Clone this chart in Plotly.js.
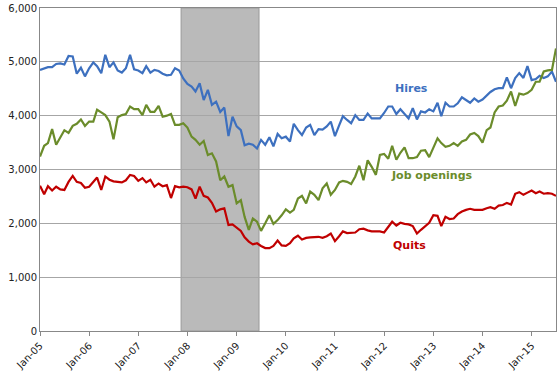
<!DOCTYPE html>
<html>
<head>
<meta charset="utf-8">
<script src="https://cdn.plot.ly/plotly-3.0.1.min.js"></script>
<style>html,body{margin:0;padding:0;background:#fff;}#chart{width:560px;height:371px;}</style>
</head>
<body>
<div id="chart"></div>
<script>
// Monthly, Jan 2005 .. Jul 2015 (thousands)
const startYear = 2005, startMonth = 1, nMonths = 127;

const hires = [
 4850,4880,4900,4900,4960,4970,4950,5110,5100,4780,
 4890,4730,4880,4990,4920,4790,5130,4900,4990,4840,
 4800,4880,5130,4860,4840,4790,4920,4800,4850,4830,
 4780,4750,4760,4880,4840,4690,4590,4540,4450,4600,
 4290,4480,4200,4260,4070,4150,3620,3980,3800,3730,
 3450,3480,3460,3390,3550,3460,3600,3430,3660,3580,
 3610,3520,3850,3730,3640,3780,3830,3640,3750,3740,
 3800,3890,3620,3820,3990,3920,3860,4010,3920,3920,
 4040,3950,3950,3950,4050,4170,4170,4030,4120,4040,
 3950,4140,3930,4080,4060,4120,4080,4240,3990,4240,
 4170,4170,4230,4340,4290,4240,4320,4260,4300,4380,
 4440,4490,4510,4510,4710,4510,4700,4790,4700,4920,
 4660,4680,4740,4700,4730,4820,4630
];

const jobOpenings = [
 3240,3440,3490,3750,3460,3610,3730,3680,3810,3850,
 3930,3810,3890,3890,4110,4060,4010,3890,3560,3970,
 4010,4030,4170,4120,4120,4010,4200,4070,4070,4180,
 3980,4000,4030,3830,3830,3860,3780,3610,3550,3460,
 3530,3270,3300,3150,2800,2870,2680,2710,2370,2430,
 2120,1880,2090,2030,1860,2000,2150,1990,2060,2150,
 2260,2200,2250,2460,2510,2370,2590,2530,2430,2650,
 2740,2530,2620,2760,2790,2770,2730,2870,3070,2800,
 3170,3050,2900,3270,3290,3200,3440,3180,3310,3410,
 3210,3210,3230,3350,3360,3230,3390,3580,3490,3420,
 3440,3490,3440,3520,3550,3650,3680,3620,3500,3730,
 3780,4060,4170,4190,4280,4450,4180,4410,4390,4420,
 4480,4630,4630,4820,4840,4850,5250
];

const quits = [
 2700,2540,2690,2610,2680,2630,2620,2770,2880,2770,
 2750,2660,2680,2770,2850,2620,2870,2810,2780,2770,
 2760,2800,2900,2880,2790,2840,2760,2810,2680,2740,
 2690,2710,2470,2690,2670,2680,2670,2630,2460,2680,
 2510,2480,2380,2220,2260,2280,1970,1980,1920,1860,
 1740,1660,1610,1630,1580,1540,1540,1580,1680,1590,
 1580,1630,1720,1770,1700,1730,1740,1740,1750,1730,
 1760,1810,1670,1760,1850,1820,1830,1830,1890,1900,
 1870,1850,1850,1850,1830,1940,2030,1960,2010,1990,
 1980,1950,1810,1880,1940,2010,2150,2140,1950,2120,
 2080,2090,2170,2220,2250,2270,2250,2250,2250,2280,
 2300,2270,2330,2340,2380,2350,2550,2580,2530,2570,
 2610,2560,2590,2550,2560,2550,2510
];

const tickDates = ['2005-01-01','2006-01-01','2007-01-01','2008-01-01','2009-01-01','2010-01-01',
                   '2011-01-01','2012-01-01','2013-01-01','2014-01-01','2015-01-01'];
const tickLabels = ['Jan-05','Jan-06','Jan-07','Jan-08','Jan-09','Jan-10',
                    'Jan-11','Jan-12','Jan-13','Jan-14','Jan-15'];
const yTickVals = [0,1000,2000,3000,4000,5000,6000];
const yTickLabels = ['0','1,000','2,000','3,000','4,000','5,000','6,000'];
const recession = ['2007-11-15','2009-06-16'];
const seriesNames = ['Hires','Job openings','Quits'];

const dates = [];
for (let i = 0; i < nMonths; i++) {
  const y = startYear + Math.floor((startMonth - 1 + i) / 12);
  const m = ((startMonth - 1 + i) % 12) + 1;
  dates.push(y + '-' + String(m).padStart(2,'0') + '-01');
}

const colors = ['#3d70bf','#6b8c2b','#c00000'];
const font = 'DejaVu Sans, Verdana, sans-serif';

const traces = [hires, jobOpenings, quits].map((v, i) => ({
  x: dates, y: v, type: 'scatter', mode: 'lines', name: seriesNames[i],
  line: {color: colors[i], width: 2.2}, hoverinfo: 'skip'
}));

const layout = {
  width: 560, height: 371,
  margin: {l: 40, r: 4, t: 8, b: 40},
  paper_bgcolor: '#fff', plot_bgcolor: '#fff',
  showlegend: false,
  font: {family: font, size: 10, color: '#222'},
  xaxis: {
    type: 'date', range: ['2005-01-01','2015-07-01'],
    tickvals: tickDates, ticktext: tickLabels, tickangle: -45,
    ticks: 'outside', ticklen: 4, tickcolor: '#888',
    showgrid: false, showline: true, linecolor: '#888', linewidth: 1, mirror: true,
    tickfont: {family: font, size: 10, color: '#222'}, automargin: false, fixedrange: true
  },
  yaxis: {
    range: [0, 6000], tickvals: yTickVals, ticktext: yTickLabels,
    showgrid: true, gridcolor: '#a6a6a6', gridwidth: 1,
    showline: true, linecolor: '#888', linewidth: 1, mirror: true,
    zeroline: false, ticks: '', ticklen: 0,
    tickfont: {family: font, size: 10, color: '#222'}, automargin: false, fixedrange: true
  },
  shapes: [{
    type: 'rect', xref: 'x', yref: 'paper', x0: recession[0], x1: recession[1], y0: 0, y1: 1,
    fillcolor: '#bababa', line: {color: '#9a9a9a', width: 1}, layer: 'below'
  }],
  annotations: [
    {x: '2012-07-24', y: 4514, xref: 'x', yref: 'y', text: '<b>' + seriesNames[0] + '</b>', showarrow: false,
     font: {family: font, size: 11, color: colors[0]}},
    {x: '2012-12-22', y: 2886, xref: 'x', yref: 'y', text: '<b>' + seriesNames[1] + '</b>', showarrow: false,
     font: {family: font, size: 11, color: colors[1]}},
    {x: '2012-07-05', y: 1585, xref: 'x', yref: 'y', text: '<b>' + seriesNames[2] + '</b>', showarrow: false,
     font: {family: font, size: 11, color: colors[2]}}
  ]
};

Plotly.newPlot('chart', traces, layout, {staticPlot: true, displayModeBar: false});
</script>
</body>
</html>
